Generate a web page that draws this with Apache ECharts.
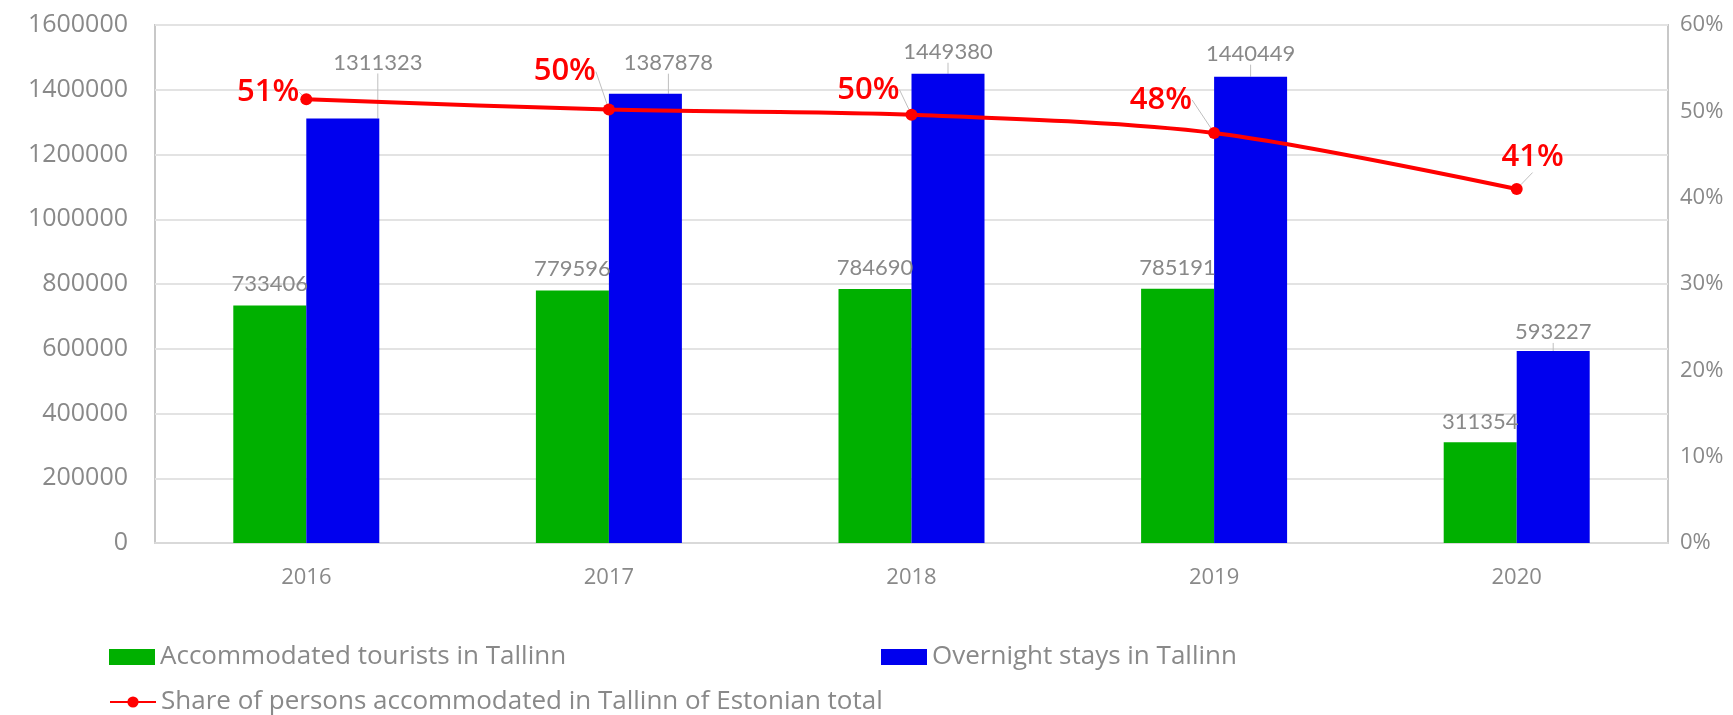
<!DOCTYPE html>
<html>
<head>
<meta charset="utf-8">
<script src="https://cdn.jsdelivr.net/npm/echarts@6/dist/echarts.min.js"></script>
<style>html,body{margin:0;padding:0;background:#fff}#c{width:1733px;height:715px}</style>
</head>
<body>
<div id="c"></div>
<script>
const years = ['2016', '2017', '2018', '2019', '2020'];
const tourists = [733406, 779596, 784690, 785191, 311354];
const overnight = [1311323, 1387878, 1449380, 1440449, 593227];
const share = [0.514, 0.502, 0.496, 0.475, 0.41];
const shareLabels = ['51%', '50%', '50%', '48%', '41%'];
const leftTicks = [0, 1600000, 200000];
const rightTicks = [0, 0.6, 0.1];

// label nudges (styling only)
const overnightNudge = [[35, -40], [23, -15], [0, -6], [0, -7], [0, -3]];
const touristNudge = [[0, -6], [0, -6], [0, -5], [0, -5], [0, -4]];
const shareNudge = [[4, -7], [-2, -38], [-1, -25], [-11, -33], [58, -32]];

const gray = '#898989';
const font = 'Lato, "Open Sans", sans-serif';
const axisFont = '"Open Sans", Lato, sans-serif';
const names = ['Accommodated tourists in Tallinn', 'Overnight stays in Tallinn', 'Share of persons accommodated in Tallinn of Estonian total'];

const chart = echarts.init(document.getElementById('c'), null, {renderer: 'canvas'});
const legendText = {color: gray, fontSize: 26, fontFamily: axisFont};
chart.setOption({
  animation: false,
  textStyle: {fontFamily: font},
  grid: {left: 155, right: 65, top: 25, bottom: 172, show: true, borderColor: '#c8c8c8', borderWidth: 2, backgroundColor: 'transparent'},
  legend: [
    {data: [names[0]], left: 104, top: 639, itemWidth: 46, itemHeight: 16, itemGap: 0, textStyle: legendText, icon: 'rect'},
    {data: [names[1]], left: 876, top: 639, itemWidth: 46, itemHeight: 16, itemGap: 0, textStyle: legendText, icon: 'rect'},
    {data: [names[2]], left: 104, top: 684, itemWidth: 46, itemHeight: 14, itemGap: 0, textStyle: legendText}
  ],
  xAxis: {
    type: 'category', data: years,
    axisLine: {show: true, lineStyle: {color: '#d9d9d9', width: 2}},
    axisTick: {show: false},
    axisLabel: {color: gray, fontSize: 22, margin: 24, fontFamily: axisFont}
  },
  yAxis: [
    {type: 'value', min: leftTicks[0], max: leftTicks[1], interval: leftTicks[2],
     axisLine: {show: false}, axisTick: {show: false},
     splitLine: {lineStyle: {color: '#e3e3e3', width: 2}},
     axisLabel: {color: gray, fontSize: 25, margin: 27, fontFamily: axisFont, formatter: v => String(v)}},
    {type: 'value', min: rightTicks[0], max: rightTicks[1], interval: rightTicks[2],
     axisLine: {show: false}, axisTick: {show: false}, splitLine: {show: false},
     axisLabel: {color: gray, fontSize: 22, margin: 12, fontFamily: axisFont,
       formatter: v => Math.round(v * 100) + '%'}}
  ],
  series: [
    {name: names[0], type: 'bar', data: tourists, barWidth: 73, barGap: '0%',
     itemStyle: {color: '#00b000'},
     label: {show: true, position: 'top', distance: 5, color: gray, fontSize: 22, fontFamily: font},
     labelLayout: p => ({dx: touristNudge[p.dataIndex][0], dy: touristNudge[p.dataIndex][1]})},
    {name: names[1], type: 'bar', data: overnight, barWidth: 73, barGap: '0%',
     itemStyle: {color: '#0000ee'},
     label: {show: true, position: 'top', distance: 5, color: gray, fontSize: 22, fontFamily: font},
     labelLine: {show: true, lineStyle: {color: '#bfbfbf', width: 1}},
     labelLayout: p => ({dx: overnightNudge[p.dataIndex][0], dy: overnightNudge[p.dataIndex][1]})},
    {name: names[2], type: 'line', yAxisIndex: 1, data: share, smooth: 0.3,
     symbol: 'circle', symbolSize: 12,
     lineStyle: {color: '#ff0000', width: 4}, itemStyle: {color: '#ff0000'},
     label: {show: true, position: 'left', distance: 5, color: '#ff0000', fontSize: 31, fontWeight: 600, fontFamily: '"Open Sans", Lato, sans-serif',
       formatter: p => shareLabels[p.dataIndex]},
     labelLine: {show: true, lineStyle: {color: '#bfbfbf', width: 1}},
     labelLayout: p => ({dx: shareNudge[p.dataIndex][0], dy: shareNudge[p.dataIndex][1]})}
  ]
});
</script>
</body>
</html>
